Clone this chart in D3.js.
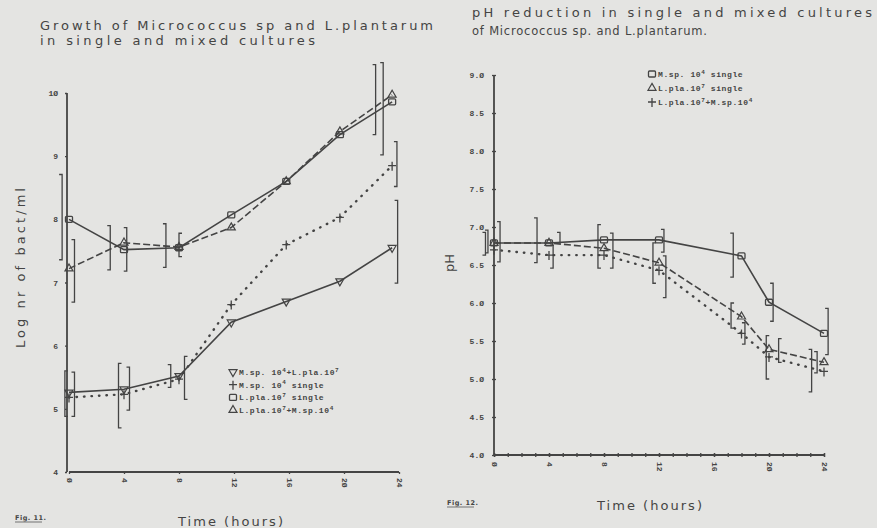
<!DOCTYPE html>
<html><head><meta charset="utf-8">
<script src="https://cdn.jsdelivr.net/npm/d3@7"></script>
<style>
body{margin:0;background:#e4e4e2;}
svg{display:block;}
</style></head><body>
<svg id="c" width="877" height="528"></svg>
<script>
// ---------- DATA: Fig. 11 growth (log nr of bact/ml) ----------
const growthHours = [0, 4, 8, 11.8, 15.8, 19.7, 23.5];
const growthMixedMsp   = [5.26, 5.31, 5.52, 6.37, 6.70, 7.02, 7.55]; // ▽ M.sp.10^4+L.pla.10^7
const growthMspSingle  = [5.18, 5.23, 5.47, 6.65, 7.60, 8.03, 8.85]; // +  M.sp.10^4 single
const growthLplaSingle = [8.00, 7.52, 7.55, 8.07, 8.60, 9.34, 9.86]; // □  L.pla.10^7 single
const growthMixedLpla  = [7.22, 7.63, 7.56, 7.87, 8.60, 9.39, 9.97]; // △  L.pla.10^7+M.sp.10^4
// error brackets (hour, low, high, side: 1 = "]", -1 = "[")
const errLplaSingleH = [-0.5, 3.0, 7.05, 22.3];
const errLplaSingleLo = [7.36, 7.20, 7.24, 9.34];
const errLplaSingleHi = [8.71, 7.90, 7.93, 10.45];
const errLplaSingleS = [1, 1, 1, 1];
const errMixedLplaH = [0.4, 4.2, 8.0, 22.85];
const errMixedLplaLo = [6.69, 7.18, 7.41, 9.02];
const errMixedLplaHi = [7.68, 7.87, 7.78, 10.48];
const errMixedLplaS = [1, 1, -1, 1];
const errMspSingleH = [-0.3, 3.6, 7.4, 23.85];
const errMspSingleLo = [4.88, 4.70, 5.34, 8.52];
const errMspSingleHi = [5.60, 5.72, 5.70, 9.23];
const errMspSingleS = [-1, -1, 1, 1];
const errMixedMspH = [0.4, 4.4, 8.4, 23.9];
const errMixedMspLo = [4.88, 4.98, 5.15, 6.99];
const errMixedMspHi = [5.58, 5.66, 5.83, 8.30];
const errMixedMspS = [1, 1, -1, 1];
const growthYTicks = [4, 5, 6, 7, 8, 9, 10];
const growthXTicks = [0, 4, 8, 12, 16, 20, 24];

// ---------- DATA: Fig. 12 pH ----------
const phHours = [0, 4, 8, 12, 18, 20, 24];
const phMspSingle  = [6.79, 6.79, 6.83, 6.83, 6.62, 6.01, 5.60]; // □ M.sp.10^4 single
const phLplaSingle = [6.79, 6.79, 6.72, 6.53, 5.82, 5.39, 5.22]; // △ L.pla.10^7 single
const phMixed      = [6.70, 6.63, 6.63, 6.43, 5.60, 5.29, 5.10]; // + L.pla.10^7+M.sp.10^4
const phErrMspH  = [0.44, 3.13, 7.56, 12.36, 17.4, 20.3, 24.3];
const phErrMspLo = [6.54, 6.53, 6.46, 6.67, 6.34, 5.76, 5.32];
const phErrMspHi = [7.07, 7.12, 7.03, 6.97, 6.92, 6.26, 5.93];
const phErrMspS  = [1, 1, -1, 1, 1, 1, 1];
const phErrLplaH  = [-0.44, 4.8, 8.65, 12.5, 18.25, 19.8, 23.5];
const phErrLplaLo = [6.66, 6.79, 6.46, 6.07, 5.46, 5.00, 5.08];
const phErrLplaHi = [6.96, 6.93, 6.92, 6.62, 5.74, 5.57, 5.36];
const phErrLplaS  = [1, 1, 1, 1, 1, -1, 1];
const phErrMixH  = [-0.62, 4.3, 11.56, 17.24, 20.7, 23.1];
const phErrMixLo = [6.63, 6.46, 6.26, 5.67, 5.22, 4.83];
const phErrMixHi = [6.93, 6.76, 6.79, 6.00, 5.53, 5.39];
const phErrMixS  = [1, 1, -1, -1, -1, 1];
const phYTicks = [4.0, 4.5, 5.0, 5.5, 6.0, 6.5, 7.0, 7.5, 8.0, 8.5, 9.0];
const phXTicks = [0, 4, 8, 12, 16, 20, 24];
const phXMinor = d3.range(0, 25, 1);

// ---------- DRAWING ----------
const INK = "#444";
const svg = d3.select("#c");
svg.append("rect").attr("width", 877).attr("height", 528).attr("fill", "#e4e4e2");
const TFONT = "'DejaVu Sans', sans-serif";
const MONO = "'Liberation Mono', 'DejaVu Sans Mono', monospace";
const slash = s => String(s).replace(/0/g, "Ø");

function txt(x, y, s, size, len) {
  const t = svg.append("text").attr("x", x).attr("y", y).text(s)
    .attr("font-family", TFONT).attr("font-size", size).attr("fill", INK);
  if (len) t.attr("textLength", len).attr("lengthAdjust", "spacing");
  return t;
}

const sym = {
  square: (g, x, y) => g.append("rect").attr("x", x - 3.5).attr("y", y - 3).attr("width", 7).attr("height", 6)
    .attr("rx", 1).attr("fill", "none").attr("stroke", INK).attr("stroke-width", 1.3),
  tri: (g, x, y) => g.append("path").attr("d", d3.symbol(d3.symbolTriangle, 28)()).attr("transform", `translate(${x},${y})`)
    .attr("fill", "none").attr("stroke", INK).attr("stroke-width", 1.2),
  itri: (g, x, y) => g.append("path").attr("d", d3.symbol(d3.symbolTriangle, 28)()).attr("transform", `translate(${x},${y}) rotate(180)`)
    .attr("fill", "none").attr("stroke", INK).attr("stroke-width", 1.2),
  plus: (g, x, y) => g.append("path").attr("d", `M${x - 4},${y}H${x + 4}M${x},${y - 4}V${y + 5}`)
    .attr("fill", "none").attr("stroke", INK).attr("stroke-width", 1.3)
};
const styles = {
  solid: {dash: null, w: 1.6, cap: "butt"},
  dashed: {dash: "7,3", w: 1.6, cap: "butt"},
  dotted: {dash: "0.5,7", w: 2.4, cap: "round"}
};

function series(g, x, y, hours, vals, st, marker) {
  const data = hours.map((h, i) => ({h, v: vals[i]}));
  const s = styles[st];
  g.append("path").datum(data)
    .attr("d", d3.line().x(d => x(d.h)).y(d => y(d.v)))
    .attr("fill", "none").attr("stroke", INK).attr("stroke-width", s.w)
    .attr("stroke-dasharray", s.dash).attr("stroke-linecap", s.cap);
  data.forEach(d => sym[marker](g, x(d.h), y(d.v)));
}
function brackets(g, x, y, hrs, lo, hi, side) {
  hrs.forEach((h, i) => {
    const X = x(h), s = -3 * side[i];
    g.append("path").attr("d", `M${X + s},${y(hi[i])}H${X}V${y(lo[i])}H${X + s}`)
      .attr("fill", "none").attr("stroke", INK).attr("stroke-width", 1.3);
  });
}
function legend(g, x, y0, dy, rows) {
  rows.forEach((r, i) => {
    const yy = y0 + i * dy;
    sym[r.m](g, x, yy);
    const t = g.append("text").attr("x", x + 6).attr("y", yy + 3)
      .attr("font-family", MONO).attr("font-weight", "bold").attr("font-size", 8).attr("fill", INK)
      .attr("letter-spacing", 0.6);
    let raised = false;
    r.parts.forEach(p => {
      if (p.sup) {
        t.append("tspan").attr("dy", raised ? 0 : -3.5).attr("font-size", 6).text(p.sup);
        raised = true;
      } else {
        t.append("tspan").attr("dy", raised ? 3.5 : 0).text(p.t);
        raised = false;
      }
    });
  });
}

// ===== Left chart (Fig. 11) =====
{
  const g = svg.append("g");
  const x = d3.scaleLinear().domain([0, 24]).range([69, 399]);
  const y = d3.scaleLinear().domain([4, 10]).range([472, 93]);
  const ya = g.append("g").attr("transform", "translate(67,0)")
    .call(d3.axisLeft(y).tickValues(growthYTicks).tickSize(2).tickPadding(7).tickFormat(d => slash(d)));
  const xa = g.append("g").attr("transform", "translate(0,472)")
    .call(d3.axisBottom(x).tickValues(growthXTicks).tickSize(2).tickFormat(d => slash(d)));
  [ya, xa].forEach(a => {
    a.select(".domain").attr("stroke", INK).attr("stroke-width", 1.8);
    a.selectAll("line").attr("stroke", INK).attr("stroke-width", 1.3);
    a.selectAll("text").attr("font-family", MONO).attr("font-weight", "bold").attr("font-size", 8).attr("fill", INK);
  });
  xa.select(".domain").attr("d", `M${x(0)},0H${x(24)}`);
  ya.select(".domain").attr("d", `M0,${y(4)}V${y(10)}`);
  xa.selectAll(".tick text").attr("transform", "rotate(90)").attr("x", 6).attr("y", 0)
    .attr("dy", "0.35em").style("text-anchor", "start");

  series(g, x, y, growthHours, growthMixedMsp, "solid", "itri");
  series(g, x, y, growthHours, growthMspSingle, "dotted", "plus");
  series(g, x, y, growthHours, growthLplaSingle, "solid", "square");
  series(g, x, y, growthHours, growthMixedLpla, "dashed", "tri");
  brackets(g, x, y, errLplaSingleH, errLplaSingleLo, errLplaSingleHi, errLplaSingleS);
  brackets(g, x, y, errMixedLplaH, errMixedLplaLo, errMixedLplaHi, errMixedLplaS);
  brackets(g, x, y, errMspSingleH, errMspSingleLo, errMspSingleHi, errMspSingleS);
  brackets(g, x, y, errMixedMspH, errMixedMspLo, errMixedMspHi, errMixedMspS);

  legend(g, 233, 372, 12.7, [
    {m: "itri", parts: [{t: "M.sp. 10"}, {sup: "4"}, {t: "+L.pla.10"}, {sup: "7"}]},
    {m: "plus", parts: [{t: "M.sp. 10"}, {sup: "4"}, {t: " single"}]},
    {m: "square", parts: [{t: "L.pla.10"}, {sup: "7"}, {t: " single"}]},
    {m: "tri", parts: [{t: "L.pla.10"}, {sup: "7"}, {t: "+M.sp.10"}, {sup: "4"}]}
  ]);

  txt(40, 30, "Growth of Micrococcus sp and L.plantarum", 13, 393);
  txt(40, 45, "in single and mixed cultures", 13, 275);
  txt(178, 526, "Time (hours)", 13, 105);
  txt(0, 0, "Log nr of bact/ml", 13, 160).attr("transform", "translate(25,348) rotate(-90)");
  txt(15, 520, "Fig. 11.", 6.5, 31).attr("font-weight", "bold");
  g.append("line").attr("x1", 15).attr("x2", 42).attr("y1", 522).attr("y2", 522).attr("stroke", INK).attr("stroke-width", 0.7);
}

// ===== Right chart (Fig. 12) =====
{
  const g = svg.append("g");
  const x = d3.scaleLinear().domain([0, 24]).range([494, 824]);
  const y = d3.scaleLinear().domain([4, 9]).range([455, 75]);
  const ya = g.append("g").attr("transform", "translate(494,0)")
    .call(d3.axisLeft(y).tickValues(phYTicks).tickSize(2).tickPadding(8).tickFormat(d => slash(d3.format(".1f")(d))));
  const xm = g.append("g").attr("transform", "translate(0,455)")
    .call(d3.axisBottom(x).tickValues(phXMinor).tickSize(2).tickFormat(""));
  const xa = g.append("g").attr("transform", "translate(0,455)")
    .call(d3.axisBottom(x).tickValues(phXTicks).tickSize(2).tickFormat(d => slash(d)));
  [ya, xa, xm].forEach(a => {
    a.select(".domain").attr("stroke", INK).attr("stroke-width", 1.8);
    a.selectAll("line").attr("stroke", INK).attr("stroke-width", 1.3).attr("y1", a === ya ? null : -2);
    a.selectAll("text").attr("font-family", MONO).attr("font-weight", "bold").attr("font-size", 8).attr("fill", INK);
  });
  ya.selectAll("line").attr("x1", 2);
  xa.select(".domain").attr("d", `M${x(0)},0H${x(24)}`);
  xm.select(".domain").remove();
  ya.select(".domain").attr("d", `M0,${y(4)}V${y(9)}`);
  xa.selectAll(".tick text").attr("transform", "rotate(90)").attr("x", 7).attr("y", 0)
    .attr("dy", "0.35em").style("text-anchor", "start");

  series(g, x, y, phHours, phMixed, "dotted", "plus");
  series(g, x, y, phHours, phLplaSingle, "dashed", "tri");
  series(g, x, y, phHours, phMspSingle, "solid", "square");
  brackets(g, x, y, phErrMspH, phErrMspLo, phErrMspHi, phErrMspS);
  brackets(g, x, y, phErrLplaH, phErrLplaLo, phErrLplaHi, phErrLplaS);
  brackets(g, x, y, phErrMixH, phErrMixLo, phErrMixHi, phErrMixS);

  legend(g, 652, 74, 14, [
    {m: "square", parts: [{t: "M.sp. 10"}, {sup: "4"}, {t: " single"}]},
    {m: "tri", parts: [{t: "L.pla.10"}, {sup: "7"}, {t: " single"}]},
    {m: "plus", parts: [{t: "L.pla.10"}, {sup: "7"}, {t: "+M.sp.10"}, {sup: "4"}]}
  ]);

  txt(472, 17, "pH reduction in single and mixed cultures", 13, 400);
  txt(472, 35, "of Micrococcus sp.  and L.plantarum.", 11.5, 235);
  txt(597, 510, "Time (hours)", 13, 105);
  txt(0, 0, "pH", 13).attr("transform", "translate(454,272) rotate(-90)");
  txt(447, 505, "Fig. 12.", 6.5, 31).attr("font-weight", "bold");
  g.append("line").attr("x1", 447).attr("x2", 474).attr("y1", 507).attr("y2", 507).attr("stroke", INK).attr("stroke-width", 0.7);
}
</script>
</body></html>
